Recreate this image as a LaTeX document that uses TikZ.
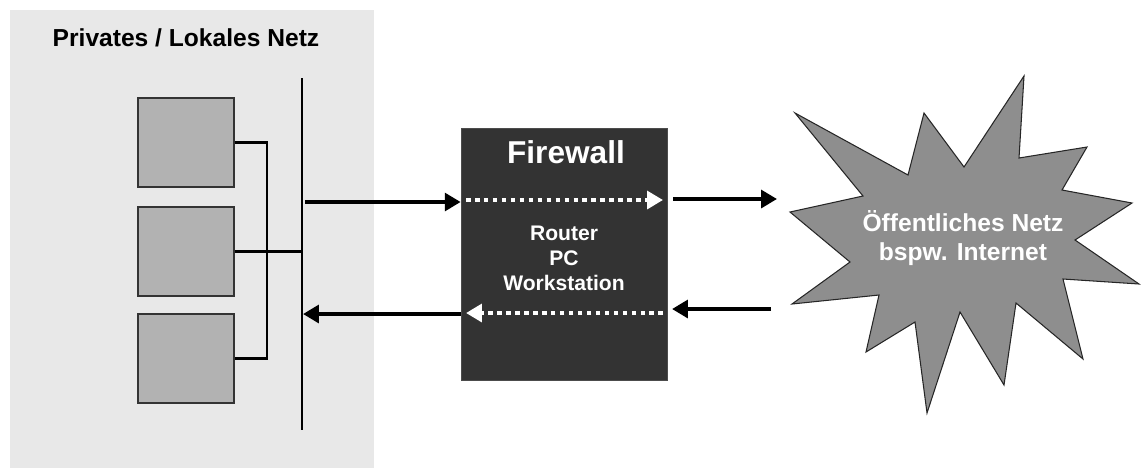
\documentclass[tikz,border=0pt]{standalone}
\usepackage{fontspec}
\setmainfont{Liberation Sans}
\usetikzlibrary{arrows.meta}
\definecolor{lanbg}{HTML}{E8E8E8}
\definecolor{hostfill}{HTML}{B2B2B2}
\definecolor{fwfill}{HTML}{333333}
\definecolor{netfill}{HTML}{8E8E8E}
\tikzset{
    host/.style = {draw = black!80, line width = 0.7pt, fill = hostfill,
        minimum width = 1.92cm, minimum height = 1.78cm, inner sep = 0pt},
    flow/.style = {line width = 2.8pt, -{Triangle[length = 9pt, width = 10pt]}},
    pass/.style = {white, line width = 2.8pt, dash pattern = on 2.6pt off 2.5pt,
        -{Triangle[length = 9pt, width = 10pt]}},
    heading/.style = {font = \bfseries, align = center, inner sep = 0pt}
}
\begin{document}
\begin{tikzpicture}[x = 0.02cm, y = -0.02cm]
        \useasboundingbox (0, 0) rectangle (1141, 468);
        % lokales Netz
        \fill[lanbg] (10, 10) rectangle (374, 468);
        \node[heading, font = \bfseries\fontsize{14}{16}\selectfont] (lantitle) at (186, 38) {Privates / Lokales Netz};
        \coordinate (bustop) at (302, 78);
        \coordinate (busbot) at (302, 430);
        \coordinate (wire) at (267, 0);
        \node[host] (pc1) at (186, 142.5) {};
        \node[host] (pc2) at (186, 251.5) {};
        \node[host] (pc3) at (186, 358.5) {};
        \draw[line width = 1.6pt] (bustop) -- (busbot);
        \draw[line width = 1.2pt] (pc1.east) -- (pc1.east -| wire) -- (pc3.east -| wire) -- (pc3.east);
        \draw[line width = 1.2pt] (pc2.east) -- (pc2.east -| bustop);
        % Firewall
        \node[fill = fwfill, draw = black!70, minimum width = 4.12cm, minimum height = 5.04cm] (fw) at (564, 254) {};
        \node[heading, white, font = \bfseries\fontsize{18}{20}\selectfont] (fwtitle) at (566, 152) {Firewall};
        \node[heading, white, font = \bfseries\fontsize{12}{14.2}\selectfont] (fwtypes) at (564, 258) {Router\\PC\\Workstation};
        \coordinate (lanout) at (305, 202);
        \coordinate (lanin) at (303, 314);
        \coordinate (fwin) at (466, 200);
        \coordinate (fwout) at (663, 200);
        \coordinate (fwback) at (663, 313);
        \coordinate (fwleft) at (466, 313);
        \draw[flow] (lanout) -- (lanout -| fw.west);
        \draw[flow] (lanin -| fw.west) -- (lanin);
        \draw[pass] (fwin) -- (fwout);
        \draw[pass] (fwback) -- (fwleft);
        % oeffentliches Netz
        \coordinate (wanin) at (777, 199);
        \coordinate (wanout) at (771, 309);
        \draw[flow] (wanin -| fw.east) ++(6, 0) coordinate (fwright) -- (wanin);
        \draw[flow] (wanout) -- ++(-99, 0);
        \draw[fill = netfill, draw = black!85, line width = 0.6pt]
            (795, 113) -- (908, 175) -- (924, 113) -- (964, 167) -- (1024, 76) -- (1019, 158)
            -- (1087, 147) -- (1062, 190) -- (1132, 203) -- (1075, 240) -- (1139, 284) -- (1063, 279)
            -- (1083, 359) -- (1016, 303) -- (1004, 385) -- (960, 312) -- (927, 413) -- (915, 322)
            -- (866, 352) -- (879, 295) -- (792, 304) -- (850, 262) -- (790, 212) -- (863, 196) -- cycle;
        \node[heading, white, font = \bfseries\fontsize{14}{16}\selectfont] (wan) at (963, 238) {Öffentliches Netz\\bspw. Internet};
    \end{tikzpicture}
\end{document}
